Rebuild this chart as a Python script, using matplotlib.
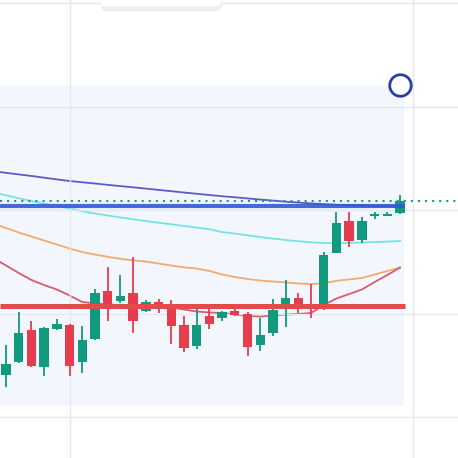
import numpy as np
import matplotlib.pyplot as plt
from matplotlib.patches import FancyBboxPatch, Rectangle

# OHLC values
opens = [204.06, 205.31, 208.41, 204.83, 208.50, 208.89, 205.31, 207.54, 212.17, 211.21,
         211.98, 210.24, 211.11, 210.82, 208.89, 206.86, 209.76, 209.57, 210.24, 209.95,
         206.96, 208.12, 210.43, 211.50, 210.92, 210.92, 215.85, 218.94, 217.10, 219.42,
         219.42, 219.71]
closes = [205.12, 208.12, 204.93, 208.60, 208.99, 204.93, 207.44, 211.98, 210.92, 211.69,
          209.28, 211.11, 210.82, 208.79, 206.67, 208.89, 208.99, 210.14, 209.86, 206.76,
          207.92, 210.34, 211.50, 210.82, 210.72, 215.65, 218.74, 217.00, 218.94, 219.62,
          219.62, 220.87]
highs = [206.96, 210.14, 209.28, 208.70, 209.47, 208.95, 208.79, 212.37, 214.49, 213.72,
         215.46, 211.30, 211.40, 211.30, 209.76, 210.53, 210.53, 210.24, 210.53, 210.14,
         209.57, 211.40, 213.24, 211.98, 212.85, 215.94, 219.81, 219.81, 219.32, 219.81,
         219.81, 221.45]
lows = [202.90, 205.20, 204.80, 203.96, 208.41, 203.96, 204.25, 207.45, 209.28, 211.01,
        208.12, 210.14, 210.05, 207.05, 206.28, 206.57, 208.50, 209.28, 209.80, 205.89,
        206.38, 207.83, 208.70, 210.05, 209.57, 210.34, 215.80, 216.43, 216.81, 219.10,
        219.42, 219.65]

# moving averages, first value belongs to the bar just left of the view
ma_slow = [223.75, 223.59, 223.44, 223.29, 223.12, 222.96, 222.80, 222.68, 222.56, 222.43,
           222.31, 222.19, 222.07, 221.94, 221.82, 221.69, 221.57, 221.45, 221.33, 221.23,
           221.12, 221.01, 220.91, 220.80, 220.72, 220.64, 220.57, 220.51, 220.46, 220.43,
           220.39, 220.36, 220.33]
ma_cyan = [221.69, 221.42, 221.14, 220.87, 220.61, 220.39, 220.16, 219.87, 219.66, 219.47,
           219.28, 219.10, 218.94, 218.77, 218.62, 218.46, 218.30, 218.14, 217.87, 217.72,
           217.56, 217.39, 217.24, 217.10, 216.98, 216.87, 216.81, 216.80, 216.82, 216.86,
           216.90, 216.95, 217.00]
ma_orange = [218.70, 218.26, 217.83, 217.44, 217.05, 216.67, 216.28, 215.94, 215.70, 215.48,
             215.28, 215.14, 215.02, 214.83, 214.64, 214.46, 214.35, 214.11, 213.77, 213.53,
             213.33, 213.19, 213.09, 213.00, 212.90, 212.85, 212.92, 213.16, 213.29, 213.43,
             213.77, 214.11, 214.44]
ma_fast = [215.36, 214.64, 213.91, 213.24, 212.75, 212.32, 211.74, 211.11, 210.97, 210.87,
           210.82, 210.77, 210.72, 210.68, 210.58, 210.39, 210.19, 210.10, 210.05, 209.90,
           209.76, 209.71, 209.81, 209.90, 209.95, 210.05, 210.82, 211.45, 211.88, 212.32,
           213.04, 213.72, 214.44]

resistance = 220.43
support = 210.77
alert_price = 232.08

up_col = '#129a7f'
down_col = '#e63d4e'

n = len(opens)
idx = np.arange(n)
ma_idx = np.arange(-1, n)

fig = plt.figure(figsize=(4.58, 4.58), dpi=100)
ax = fig.add_axes([0, 0, 1, 1])
ax.set_xlim(-0.472, 35.56)
ax.set_ylim(196.04, 240.29)

# 图表区域的浅蓝底色
ax.add_patch(Rectangle((-0.472, 201.06), 31.78, 30.92, facecolor='#f3f7fd',
                       edgecolor='none', zorder=0))

ax.set_xticks([5, 32])
ax.set_yticks([200, 210, 220, 230, 240])
ax.grid(True, color='#e6e7eb', linewidth=1.0)
ax.set_axisbelow(False)
for gl in ax.get_xgridlines() + ax.get_ygridlines():
    gl.set_zorder(0.5)
ax.tick_params(left=False, bottom=False, labelleft=False, labelbottom=False)
for s in ax.spines.values():
    s.set_visible(False)

# 均线
ax.plot(ma_idx, ma_slow, color='#5a5ac8', lw=1.3, zorder=2)
ax.plot(ma_idx, ma_cyan, color='#72e4e2', lw=1.3, zorder=2)
ax.plot(ma_idx, ma_orange, color='#f1aa6c', lw=1.3, zorder=2)
ax.plot(ma_idx, ma_fast, color='#d85a6c', lw=1.3, zorder=2)

# 蜡烛
o = np.array(opens)
c = np.array(closes)
cols = [up_col if cc >= oo else down_col for oo, cc in zip(o, c)]
ax.vlines(idx, lows, highs, colors=cols, lw=1.3, zorder=3)
body = np.maximum(np.abs(c - o), 0.15)
ax.bar(idx, body, bottom=np.minimum(o, c), width=0.74, color=cols, zorder=3)

# 水平线
ax.hlines(support, -0.472, 31.4, color='#e34a4a', lw=3.6, zorder=4)
ax.hlines(resistance, -0.472, 31.4, color='#2d5bd8', lw=3.0, alpha=0.9, zorder=4)
ax.axhline(closes[-1], color='#1a9c80', lw=1.5, ls=(0, (1, 2.4)), zorder=4)

# 提醒圆圈
ax.plot([n - 1], [alert_price], marker='o', ms=15.5, mfc='white', mec='#2b3ea8',
        mew=2.0, zorder=5, clip_on=False)

# 顶部的白色小框
fig.patches.append(FancyBboxPatch((0.222, 0.975), 0.262, 0.06,
                                  boxstyle='round,pad=0,rounding_size=0.014',
                                  transform=fig.transFigure, facecolor='#dcdcdc',
                                  edgecolor='none', alpha=0.5, zorder=5))
fig.patches.append(FancyBboxPatch((0.218, 0.985), 0.266, 0.05,
                                  boxstyle='round,pad=0,rounding_size=0.014',
                                  transform=fig.transFigure, facecolor='white',
                                  edgecolor='#eeeeee', lw=0.6, zorder=6))

plt.savefig('out.png', dpi=100)
